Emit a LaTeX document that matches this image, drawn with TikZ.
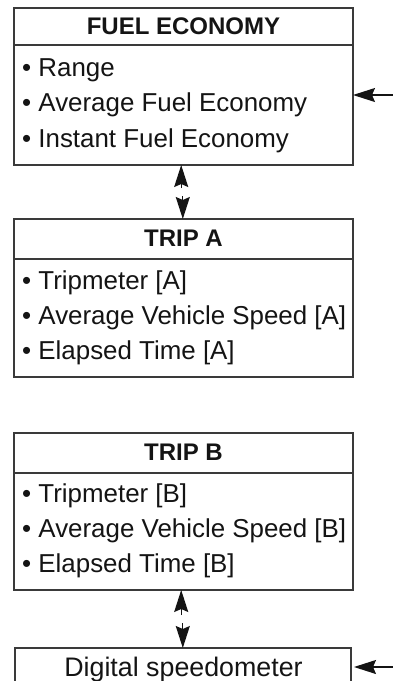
\documentclass[tikz,border=0pt]{standalone}
\usepackage{fontspec}
\setmainfont{Liberation Sans}
\usetikzlibrary{arrows.meta}
\definecolor{ink}{HTML}{141414}
\definecolor{frame}{HTML}{3A3A3A}
\tikzset{
  panel/.style={draw=frame, line width=1.4pt, rectangle, inner sep=0pt, outer sep=0pt, anchor=north west},
  divider/.style={draw=frame, line width=1.4pt},
  head/.style={anchor=base, inner sep=0pt, text=ink, font=\fontsize{24}{28}\selectfont\bfseries},
  item/.style={anchor=base west, inner sep=0pt, text=ink, font=\fontsize{25.9}{30}\selectfont},
  plain/.style={anchor=base, inner sep=0pt, text=ink, font=\fontsize{26.8}{30}\selectfont},
  conn/.style={draw=ink, line width=1.3pt, -{Stealth[length=22pt, width=14pt, inset=3pt]}},
}
\begin{document}
\begin{tikzpicture}[x=1pt, y=-1pt]
\useasboundingbox (0,0) rectangle (392,681);
% FUEL ECONOMY
\node[panel, minimum width=339pt, minimum height=157pt] (fe) at (14,8) {};
\draw[divider] (14,45) -- (353,45);
\node[head] (feh) at (183.5,34) {FUEL ECONOMY};
\node[item] (fe1) at (22,76) {• Range};
\node[item] (fe2) at (22,111) {• Average Fuel Economy};
\node[item] (fe3) at (22,147) {• Instant Fuel Economy};
% TRIP A
\node[panel, minimum width=339pt, minimum height=158pt] (ta) at (14,219) {};
\draw[divider] (14,259) -- (353,259);
\node[head] (tah) at (183.5,246) {TRIP A};
\node[item] (ta1) at (22,289) {• Tripmeter [A]};
\node[item] (ta2) at (22,324) {• Average Vehicle Speed [A]};
\node[item] (ta3) at (22,359) {• Elapsed Time [A]};
% TRIP B
\node[panel, minimum width=339pt, minimum height=157pt] (tb) at (14,433) {};
\draw[divider] (14,473) -- (353,473);
\node[head] (tbh) at (183.5,460) {TRIP B};
\node[item] (tb1) at (22,502) {• Tripmeter [B]};
\node[item] (tb2) at (22,537) {• Average Vehicle Speed [B]};
\node[item] (tb3) at (22,572) {• Elapsed Time [B]};
% Digital speedometer (box continues below the picture)
\coordinate (dsl) at (15,684);
\coordinate (dsr) at (351,684);
\draw[divider] (dsl) -- (15,648) -- (351,648) -- (dsr);
\node[plain] (ds) at (183.5,676) {Digital speedometer};
% connectors
\coordinate (m1) at (182,192);
\coordinate (m2) at (182,619);
\draw[conn] ([xshift=-0.8pt,yshift=4pt]m1) -- ([xshift=-0.8pt]fe.south -| m1);
\draw[conn] ([xshift=0.8pt,yshift=-4pt]m1) -- ([xshift=0.8pt]ta.north -| m1);
\draw[conn] ([xshift=-0.8pt,yshift=4pt]m2) -- ([xshift=-0.8pt]tb.south -| m2);
\draw[conn] ([xshift=0.8pt,yshift=-4pt]m2) -- ([xshift=0.8pt]0,648 -| m2);
\coordinate (in1) at (394,95);
\coordinate (in2) at (394,667);
\draw[conn] (in1) -- (fe.east |- in1);
\draw[conn] (in2) -- (354,667);
\end{tikzpicture}
\end{document}
